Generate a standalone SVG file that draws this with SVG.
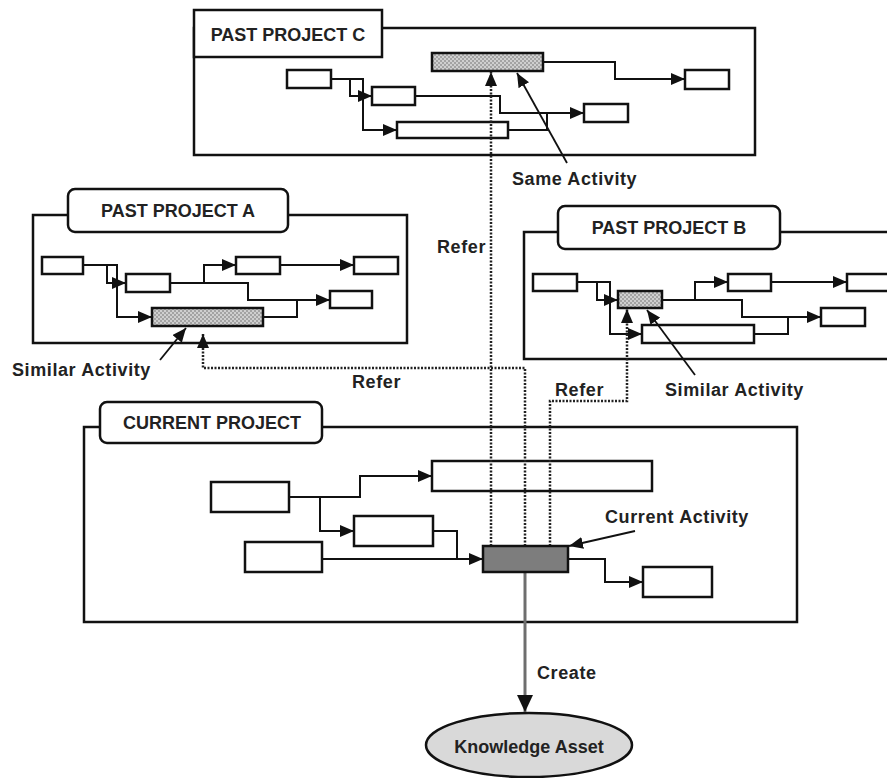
<svg xmlns="http://www.w3.org/2000/svg" width="887" height="778" viewBox="0 0 887 778">
  <defs>
    <style>
      .frame { fill: none; stroke: #111; stroke-width: 2.5; }
      .title { fill: #fff; stroke: #111; stroke-width: 2.5; }
      .box { fill: #fff; stroke: #111; stroke-width: 2.5; }
      .hatched { fill: url(#dots); stroke: #111; stroke-width: 2.5; }
      .current { fill: #7d7d7d; stroke: #111; stroke-width: 2.5; }
      .link { fill: none; stroke: #111; stroke-width: 2; }
      .refer { fill: none; stroke: #222; stroke-width: 2.5; stroke-dasharray: 2 1.5; }
      .note { fill: none; stroke: #111; stroke-width: 1.8; }
      .create { fill: none; stroke: #6e6e6e; stroke-width: 3; }
      text { font-family: "Liberation Sans", Arial, sans-serif; font-weight: bold; font-size: 18px; fill: #222; }
      .lbl { letter-spacing: 0.6px; }
      .ttl { text-anchor: middle; }
    </style>
    <pattern id="dots" width="4" height="4" patternUnits="userSpaceOnUse">
      <rect width="4" height="4" fill="#cfcfcf"/>
      <circle cx="1" cy="1" r="0.8" fill="#6a6a6a"/>
      <circle cx="3" cy="3" r="0.8" fill="#6a6a6a"/>
    </pattern>
    <marker id="arr" markerUnits="userSpaceOnUse" markerWidth="14" markerHeight="12" refX="14" refY="6" orient="auto">
      <path d="M0,0 L14,6 L0,12 z" fill="#111"/>
    </marker>
    <marker id="big" markerUnits="userSpaceOnUse" markerWidth="17" markerHeight="16" refX="17" refY="8" orient="auto">
      <path d="M0,0 L17,8 L0,16 z" fill="#111"/>
    </marker>
  </defs>

  <rect width="887" height="778" fill="#fff"/>

  <!-- Past project C -->
  <g id="project-c">
    <rect class="frame" x="194" y="28" width="561" height="127"/>
    <rect class="title" x="194" y="10" width="188" height="47"/>
    <text class="ttl" x="288" y="41">PAST PROJECT C</text>
    <rect class="box" x="287" y="70" width="44" height="18"/>
    <rect class="box" x="372" y="87" width="43" height="18"/>
    <rect class="box" x="397" y="122" width="111" height="16"/>
    <rect class="box" x="584" y="104" width="44" height="18"/>
    <rect class="box" x="685" y="70" width="44" height="19"/>
    <rect id="c-same" class="hatched" x="432" y="53" width="111" height="18"/>
  </g>

  <!-- Past project A -->
  <g id="project-a">
    <path class="frame" d="M68,215 H33 V343 H407 V215 H288"/>
    <rect class="title" x="68" y="189" width="220" height="43" rx="7"/>
    <text class="ttl" x="178" y="217">PAST PROJECT A</text>
    <rect class="box" x="42" y="257" width="41" height="17"/>
    <rect class="box" x="126" y="274" width="44" height="18"/>
    <rect class="box" x="236" y="257" width="44" height="17"/>
    <rect class="box" x="354" y="257" width="44" height="17"/>
    <rect class="box" x="330" y="291" width="42" height="17"/>
    <rect id="a-similar" class="hatched" x="152" y="308" width="111" height="18"/>
  </g>

  <!-- Past project B -->
  <g id="project-b">
    <path class="frame" d="M558,232 H524 V359 H892 M780,232 H892"/>
    <rect class="title" x="558" y="206" width="222" height="43" rx="7"/>
    <text class="ttl" x="669" y="234">PAST PROJECT B</text>
    <rect class="box" x="533" y="274" width="44" height="17"/>
    <rect class="box" x="642" y="325" width="112" height="18"/>
    <rect class="box" x="728" y="274" width="43" height="17"/>
    <rect class="box" x="847" y="274" width="50" height="17"/>
    <rect class="box" x="821" y="308" width="44" height="18"/>
    <rect id="b-similar" class="hatched" x="618" y="291" width="44" height="17"/>
  </g>

  <!-- Current project -->
  <g id="current-project">
    <path class="frame" d="M100,427 H84 V622 H797 V427 H322"/>
    <rect class="title" x="100" y="402" width="222" height="41" rx="7"/>
    <text class="ttl" x="212" y="429">CURRENT PROJECT</text>
    <rect class="box" x="211" y="482" width="78" height="30"/>
    <rect class="box" x="432" y="461" width="220" height="30"/>
    <rect class="box" x="354" y="516" width="79" height="30"/>
    <rect class="box" x="245" y="542" width="77" height="30"/>
    <rect class="box" x="643" y="567" width="69" height="30"/>
  </g>

  <!-- Knowledge asset -->
  <g id="knowledge-asset">
    <ellipse cx="529" cy="745" rx="103" ry="32" fill="#d9d9d9" stroke="#111" stroke-width="2.5"/>
    <text class="ttl" x="529" y="753">Knowledge Asset</text>
  </g>

  <g id="connectors">
    <!-- project C flow -->
    <path class="link" d="M331,79 H350 V96 H372" marker-end="url(#arr)"/>
    <path class="link" d="M350,79 H363 V130 H397" marker-end="url(#arr)"/>
    <path class="link" d="M415,96 H500 V113 H584" marker-end="url(#arr)"/>
    <path class="link" d="M508,130 H547 V113"/>
    <path class="link" d="M543,62 H615 V79 H685" marker-end="url(#arr)"/>

    <!-- project A flow -->
    <path class="link" d="M83,265 H107 V283 H126" marker-end="url(#arr)"/>
    <path class="link" d="M107,265 H117 V317 H152" marker-end="url(#arr)"/>
    <path class="link" d="M170,283 H204 V265 H236" marker-end="url(#arr)"/>
    <path class="link" d="M204,283 H248 V300 H330" marker-end="url(#arr)"/>
    <path class="link" d="M280,265 H354" marker-end="url(#arr)"/>
    <path class="link" d="M263,317 H297 V300"/>

    <!-- project B flow -->
    <path class="link" d="M577,282 H597 V300 H618" marker-end="url(#arr)"/>
    <path class="link" d="M597,282 H610 V334 H642" marker-end="url(#arr)"/>
    <path class="link" d="M662,300 H695 V282 H728" marker-end="url(#arr)"/>
    <path class="link" d="M695,300 H742 V317 H821" marker-end="url(#arr)"/>
    <path class="link" d="M771,282 H847" marker-end="url(#arr)"/>
    <path class="link" d="M754,334 H788 V317"/>

    <!-- current project flow -->
    <path class="link" d="M289,497 H360 V476 H432" marker-end="url(#arr)"/>
    <path class="link" d="M320,497 V531 H354" marker-end="url(#arr)"/>
    <path class="link" d="M433,531 H457 V559"/>
    <path class="link" d="M322,559 H483" marker-end="url(#arr)"/>
    <path class="link" d="M568,559 H605 V582 H643" marker-end="url(#arr)"/>

    <!-- refer links -->
    <path class="refer" d="M491,546 V72" marker-end="url(#arr)"/>
    <path class="refer" d="M525,546 V368 H203 V334" marker-end="url(#arr)"/>
    <path class="refer" d="M550,546 V401 H627 V309" marker-end="url(#arr)"/>

    <!-- callouts -->
    <path class="note" d="M567,163 L517,73" marker-end="url(#arr)"/>
    <path class="note" d="M160,360 L186,328" marker-end="url(#arr)"/>
    <path class="note" d="M695,375 L647,310" marker-end="url(#arr)"/>
    <path class="note" d="M635,531 L569,546" marker-end="url(#arr)"/>

    <!-- create -->
    <path class="create" d="M525,572 V712" marker-end="url(#big)"/>
  </g>

  <!-- current activity drawn over the refer lines -->
  <g id="current-activity">
    <rect class="current" x="483" y="546" width="85" height="26"/>
  </g>

  <g id="labels">
    <text class="lbl" x="512" y="185">Same Activity</text>
    <text class="lbl" x="437" y="253">Refer</text>
    <text class="lbl" x="12" y="376">Similar Activity</text>
    <text class="lbl" x="352" y="388">Refer</text>
    <text class="lbl" x="555" y="396">Refer</text>
    <text class="lbl" x="665" y="396">Similar Activity</text>
    <text class="lbl" x="605" y="523">Current Activity</text>
    <text class="lbl" x="537" y="679">Create</text>
  </g>
</svg>
